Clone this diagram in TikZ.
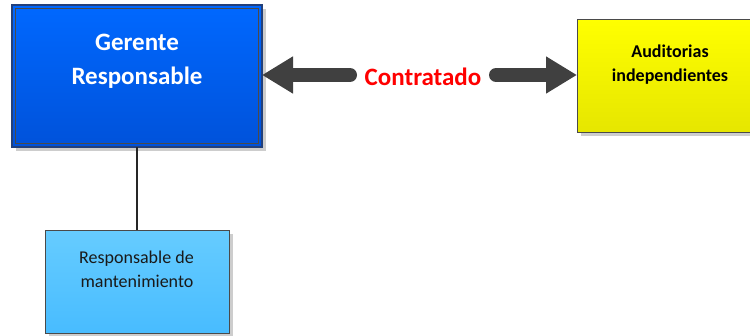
\documentclass[tikz,border=0pt]{standalone}
\usepackage{fontspec}
\setmainfont{Carlito}
\usetikzlibrary{arrows.meta}
\definecolor{bluetop}{HTML}{0068FF}
\definecolor{bluebot}{HTML}{0052DA}
\definecolor{blueedge}{HTML}{23407A}
\definecolor{yeltop}{HTML}{FFFF00}
\definecolor{yelbot}{HTML}{E6E600}
\definecolor{ltop}{HTML}{66CCFF}
\definecolor{lbot}{HTML}{48BCFF}
\definecolor{arrowgray}{HTML}{404040}
\definecolor{edgegray}{HTML}{4A4A4A}
\definecolor{shadowgray}{HTML}{CDCDCD}
\tikzset{
  box/.style={rectangle, inner sep=0pt, outer sep=0pt},
  bigarrow/.style={draw=arrowgray, line width=14pt, line cap=round,
    -{Triangle[length=31pt, width=35pt]}},
  conn/.style={draw=black!85, line width=1.4pt},
}
\begin{document}
\begin{tikzpicture}[x=1pt, y=-1pt]
\useasboundingbox (0,0) rectangle (750,335);
% shadows
\fill[shadowgray] (16,9) rectangle (266,151);
\fill[shadowgray] (581,23) rectangle (752,136);
\fill[shadowgray] (49,234) rectangle (233,337);
% boxes
\node[box, minimum width=250pt, minimum height=142pt, top color=bluetop, bottom color=bluebot, draw=blueedge, line width=1.5pt] (gerente) at (137,76) {};
\draw[edgegray, line width=0.6pt] (15.5,8.5) rectangle (258.5,143.5);
\node[box, minimum width=175pt, minimum height=113pt, top color=yeltop, bottom color=yelbot, draw=edgegray, line width=0.8pt] (audit) at (664.5,75.5) {};
\node[box, minimum width=184pt, minimum height=103pt, top color=ltop, bottom color=lbot, draw=edgegray, line width=0.8pt] (mant) at (137,281.5) {};
% texts
\node[anchor=base, inner sep=0pt, text=white, font=\fontsize{25}{30}\selectfont\bfseries] (t1) at (137,50) {Gerente};
\node[anchor=base, inner sep=0pt, text=white, font=\fontsize{25}{30}\selectfont\bfseries] (t2) at (137,84) {Responsable};
\node[anchor=base, inner sep=0pt, text=black, font=\fontsize{18}{22}\selectfont\bfseries] (t3) at (670,57) {Auditorias};
\node[anchor=base, inner sep=0pt, text=black, font=\fontsize{18}{22}\selectfont\bfseries] (t4) at (670,81.5) {independientes};
\node[anchor=base, inner sep=0pt, text=black!90, font=\fontsize{18}{22}\selectfont] (t5) at (136.5,263) {Responsable de};
\node[anchor=base, inner sep=0pt, text=black!90, font=\fontsize{18}{22}\selectfont] (t6) at (137,287) {mantenimiento};
\node[anchor=base, inner sep=0pt, text=red, font=\fontsize{25}{30}\selectfont\bfseries] (contr) at (423,85) {Contratado};
% arrows
\coordinate (la) at (350,75);
\coordinate (ra) at (496,75);
\draw[bigarrow] (la) -- (la -| gerente.east);
\draw[bigarrow] (ra) -- (ra -| audit.west);
% connector
\draw[conn] (gerente.south) -- (mant.north);
\end{tikzpicture}
\end{document}
